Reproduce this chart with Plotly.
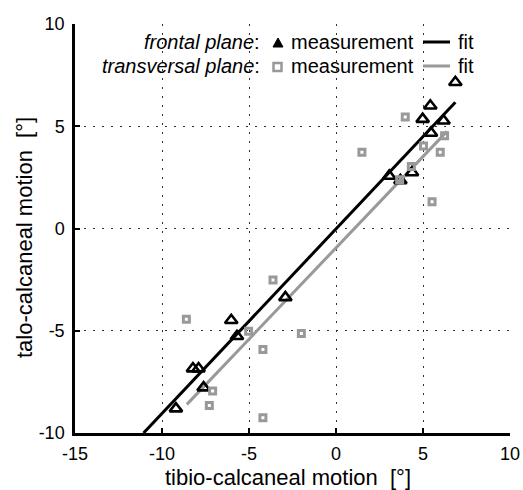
import plotly.graph_objects as go

# data
tri_x = [6.86, 5.42, 4.98, 6.18, 5.46, 3.06, 4.37, 3.70, -2.91, -6.02, -5.69, -8.22, -7.90, -7.61, -9.20]
tri_y = [7.15, 6.00, 5.35, 5.27, 4.67, 2.57, 2.74, 2.35, -3.37, -4.49, -5.27, -6.85, -6.85, -7.78, -8.81]
sq_x = [3.98, 6.24, 5.03, 5.99, 1.49, 4.33, 3.66, 5.52, -3.62, -8.60, -5.02, -1.99, -4.20, -7.09, -7.28, -4.20]
sq_y = [5.45, 4.53, 4.04, 3.73, 3.73, 3.03, 2.38, 1.31, -2.52, -4.44, -5.02, -5.14, -5.92, -7.95, -8.65, -9.25]
fit_front_x = [-11.06, 6.86]
fit_front_y = [-10.0, 6.17]
fit_trans_x = [-8.57, 6.38]
fit_trans_y = [-8.60, 4.75]
x_ticks = [-15, -10, -5, 0, 5, 10]
y_ticks = [-10, -5, 0, 5, 10]
x_title = "tibio-calcaneal motion  [°]"
y_title = "talo-calcaneal motion  [°]"

FONT = "Liberation Sans, Arial, sans-serif"
GRAY = "#999999"

fig = go.Figure()
fig.add_trace(go.Scatter(x=fit_front_x, y=fit_front_y, mode="lines",
                         line=dict(color="black", width=3), showlegend=False))
fig.add_trace(go.Scatter(x=fit_trans_x, y=fit_trans_y, mode="lines",
                         line=dict(color=GRAY, width=3), showlegend=False))
fig.add_trace(go.Scatter(x=tri_x, y=tri_y, mode="markers",
                         marker=dict(symbol="triangle-up-open", size=11, color="black",
                                     line=dict(color="black", width=2.6)),
                         showlegend=False))
fig.add_trace(go.Scatter(x=sq_x, y=sq_y, mode="markers",
                         marker=dict(symbol="square-open", size=6, color=GRAY,
                                     line=dict(color=GRAY, width=3)),
                         showlegend=False))

L, R, T, B = 75, 13, 24, 57
W, H = 523, 490
pw, ph = W - L - R, H - T - B


def px(xp):
    return (xp - L) / pw


def py(yp):
    return (H - B - yp) / ph


tfont = dict(family=FONT, size=20, color="black")
ann = [
    dict(x=px(262), y=py(42), text="<i>frontal plane</i>:", xanchor="right"),
    dict(x=px(289), y=py(42), text="measurement", xanchor="left"),
    dict(x=px(456), y=py(42), text="fit", xanchor="left"),
    dict(x=px(262), y=py(66), text="<i>transversal plane</i>:", xanchor="right"),
    dict(x=px(289), y=py(66), text="measurement", xanchor="left"),
    dict(x=px(456), y=py(66), text="fit", xanchor="left"),
]
for a in ann:
    a.update(xref="paper", yref="paper", yanchor="middle", showarrow=False, font=tfont)

title_font = dict(family=FONT, size=22, color="black")
ann.append(dict(x=px(288), y=py(478), xref="paper", yref="paper", text=x_title,
                xanchor="center", yanchor="middle", showarrow=False, font=title_font))
ann.append(dict(x=px(24), y=py(238), xref="paper", yref="paper", text=y_title, textangle=-90,
                xanchor="center", yanchor="middle", showarrow=False, font=title_font))

shapes = [
    dict(type="path", xref="paper", yref="paper",
         path=f"M {px(273)},{py(47)} L {px(283)},{py(47)} L {px(278)},{py(38)} Z",
         fillcolor="black", line=dict(color="black", width=1)),
    dict(type="line", xref="paper", yref="paper", x0=px(423), x1=px(450), y0=py(42), y1=py(42),
         line=dict(color="black", width=3)),
    dict(type="rect", xref="paper", yref="paper", x0=px(273.5), x1=px(281.5), y0=py(71), y1=py(63),
         fillcolor="white", line=dict(color=GRAY, width=2.5)),
    dict(type="line", xref="paper", yref="paper", x0=px(423), x1=px(450), y0=py(66), y1=py(66),
         line=dict(color=GRAY, width=3)),
]

axis_common = dict(
    showgrid=True, gridcolor="#333333", gridwidth=1, griddash="2px,7px",
    zeroline=False, showline=True, linecolor="black", linewidth=2.5,
    ticks="inside", ticklen=5, tickwidth=2, tickcolor="black",
    tickfont=dict(family=FONT, size=18, color="black"),
    automargin=False,
)

fig.update_layout(
    width=W, height=H,
    margin=dict(l=L, r=R, t=T, b=B, pad=0),
    paper_bgcolor="white", plot_bgcolor="white",
    annotations=ann, shapes=shapes,
    xaxis=dict(range=[-15, 10], tickvals=x_ticks, ticktext=[str(v) for v in x_ticks],
               ticklabelstandoff=3, **axis_common),
    yaxis=dict(range=[-10, 10], tickvals=y_ticks, ticktext=[str(v) for v in y_ticks],
               ticklabelstandoff=4, **axis_common),
)

fig.write_html("out.html")
